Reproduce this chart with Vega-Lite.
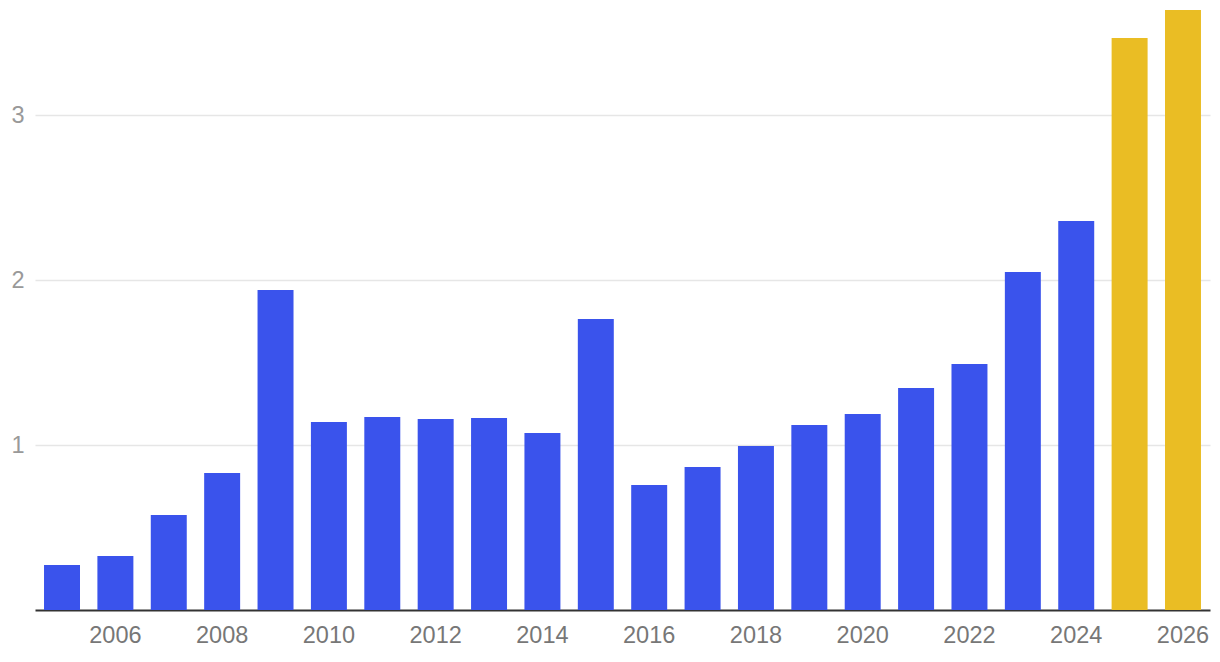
{
  "$schema": "https://vega.github.io/schema/vega-lite/v6.json",
  "width": 1175,
  "height": 610,
  "autosize": {"type": "none"},
  "padding": {"left": 35, "top": 0, "right": 10, "bottom": 52},
  "background": "white",
  "config": {
    "view": {"stroke": null},
    "font": "Liberation Sans"
  },
  "data": {
    "values": [
      {"year": 2005, "value": 0.273, "type": "actual"},
      {"year": 2006, "value": 0.327, "type": "actual"},
      {"year": 2007, "value": 0.576, "type": "actual"},
      {"year": 2008, "value": 0.830, "type": "actual"},
      {"year": 2009, "value": 1.939, "type": "actual"},
      {"year": 2010, "value": 1.139, "type": "actual"},
      {"year": 2011, "value": 1.170, "type": "actual"},
      {"year": 2012, "value": 1.158, "type": "actual"},
      {"year": 2013, "value": 1.164, "type": "actual"},
      {"year": 2014, "value": 1.073, "type": "actual"},
      {"year": 2015, "value": 1.764, "type": "actual"},
      {"year": 2016, "value": 0.758, "type": "actual"},
      {"year": 2017, "value": 0.867, "type": "actual"},
      {"year": 2018, "value": 0.994, "type": "actual"},
      {"year": 2019, "value": 1.121, "type": "actual"},
      {"year": 2020, "value": 1.188, "type": "actual"},
      {"year": 2021, "value": 1.345, "type": "actual"},
      {"year": 2022, "value": 1.491, "type": "actual"},
      {"year": 2023, "value": 2.048, "type": "actual"},
      {"year": 2024, "value": 2.358, "type": "actual"},
      {"year": 2025, "value": 3.467, "type": "forecast"},
      {"year": 2026, "value": 3.636, "type": "forecast"}
    ]
  },
  "mark": {"type": "bar"},
  "encoding": {
    "x": {
      "field": "year",
      "type": "ordinal",
      "scale": {"paddingInner": 0.326, "paddingOuter": 0.169},
      "axis": {
        "title": null,
        "values": [2006, 2008, 2010, 2012, 2014, 2016, 2018, 2020, 2022, 2024, 2026],
        "labelAngle": 0,
        "labelFontSize": 23.5,
        "labelColor": "#777777",
        "labelPadding": 13,
        "ticks": false,
        "domain": true,
        "domainColor": "#333333",
        "domainWidth": 2,
        "grid": false
      }
    },
    "y": {
      "field": "value",
      "type": "quantitative",
      "scale": {"domain": [0, 3.697], "nice": false, "zero": true},
      "axis": {
        "title": null,
        "values": [1, 2, 3],
        "labelFontSize": 23.5,
        "labelColor": "#999999",
        "labelPadding": 11,
        "ticks": false,
        "domain": false,
        "grid": true,
        "gridColor": "#e6e6e6",
        "gridWidth": 1.5
      }
    },
    "color": {
      "field": "type",
      "type": "nominal",
      "scale": {"domain": ["actual", "forecast"], "range": ["#3a53ec", "#eabd24"]},
      "legend": null
    }
  }
}
